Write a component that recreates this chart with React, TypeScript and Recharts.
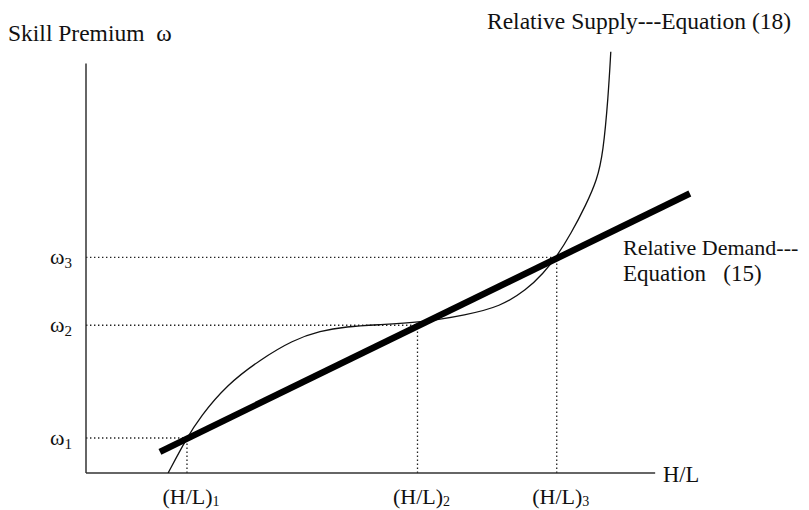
import React from "react";
import { LineChart, Line, XAxis, YAxis, ReferenceLine } from "recharts";

// relative supply curve (H/L, omega)
const supplyX = [1.61, 1.97, 2.24, 2.76, 3.41, 4.06, 4.59, 5.11, 5.7, 6.55, 7.46, 8.12, 8.64, 8.97, 9.22, 9.52, 9.8, 10.02, 10.14, 10.24, 10.29];
const supplyY = [0, 0.8, 1.3, 2.04, 2.62, 3.08, 3.29, 3.39, 3.43, 3.48, 3.66, 3.85, 4.24, 4.63, 4.99, 5.56, 6.2, 6.78, 7.41, 8.71, 9.75];

// relative demand line end points
const demandX = [1.45, 11.84];
const demandY = [0.49, 6.47];

// equilibria
const hlTicks = [1.98, 6.5, 9.23];
const omegaTicks = [0.81, 3.42, 4.99];
const tickSubs = ["1", "2", "3"];

const axisTopY = 9.48;
const axisEndX = 11.16;

const supplyData = supplyX.map((x, i) => ({ x, y: supplyY[i] }));
const demandData = demandX.map((x, i) => ({ x, y: demandY[i] }));

const FONT = "'Liberation Serif', 'Times New Roman', serif";

const HLTick = (props: any) => {
  const { x, y, index } = props;
  return (
    <text x={x - 24.5} y={y + 30.5} fontFamily={FONT} fontSize={22} fill="#111">
      <tspan>(H/L)</tspan>
      <tspan dy={2.5} fontSize={14}>{tickSubs[index]}</tspan>
    </text>
  );
};

const OmegaTick = (props: any) => {
  const { x, y, index } = props;
  return (
    <text x={x - 22} y={y + 6.5} fontFamily={FONT} fontSize={22} fill="#111">
      <tspan>ω</tspan>
      <tspan dy={4} fontSize={15}>{tickSubs[index]}</tspan>
    </text>
  );
};

const label = (left: number, top: number, text: string, size = 22) => (
  <div
    style={{
      position: "absolute",
      left,
      top,
      fontFamily: FONT,
      fontSize: size,
      lineHeight: size + "px",
      whiteSpace: "pre",
      color: "#111",
    }}
  >
    {text}
  </div>
);

const dotted = { stroke: "#222", strokeWidth: 1.3, strokeDasharray: "1.4 2.6" };

export default function App() {
  return (
    <div style={{ position: "absolute", left: 0, top: 0, width: 809, height: 510, background: "#fff" }}>
      <LineChart width={809} height={510} margin={{ top: 41, right: 111, bottom: 0, left: 8 }}>
        <XAxis
          type="number"
          dataKey="x"
          domain={[0, 12]}
          ticks={hlTicks}
          tick={<HLTick />}
          axisLine={false}
          tickLine={false}
          tickSize={0}
          tickMargin={0}
          height={37}
          allowDataOverflow
        />
        <YAxis
          type="number"
          dataKey="y"
          domain={[0, 10]}
          ticks={omegaTicks}
          tick={<OmegaTick />}
          axisLine={false}
          tickLine={false}
          tickSize={0}
          tickMargin={14}
          width={78}
          allowDataOverflow
        />
        {hlTicks.map((h, i) => (
          <ReferenceLine key={"h" + i} segment={[{ x: 0, y: omegaTicks[i] }, { x: h, y: omegaTicks[i] }]} {...dotted} />
        ))}
        {hlTicks.map((h, i) => (
          <ReferenceLine key={"v" + i} segment={[{ x: h, y: 0 }, { x: h, y: omegaTicks[i] }]} {...dotted} />
        ))}
        <ReferenceLine segment={[{ x: 0, y: 0 }, { x: 0, y: axisTopY }]} stroke="#333" strokeWidth={1.5} />
        <ReferenceLine segment={[{ x: 0, y: 0 }, { x: axisEndX, y: 0 }]} stroke="#333" strokeWidth={1.5} />
        <Line
          data={supplyData}
          dataKey="y"
          type="basis"
          stroke="#111"
          strokeWidth={1.3}
          dot={false}
          isAnimationActive={false}
        />
        <Line
          data={demandData}
          dataKey="y"
          type="linear"
          stroke="#000"
          strokeWidth={6.5}
          dot={false}
          isAnimationActive={false}
        />
      </LineChart>
      {label(8, 22.3, "Skill Premium  ω", 23.5)}
      {label(487, 10.3, "Relative Supply---Equation (18)", 23.5)}
      {label(623, 236.5, "Relative Demand---")}
      {label(623, 262.4, "Equation   (15)", 23)}
      {label(663, 464, "H/L", 22.5)}
    </div>
  );
}
